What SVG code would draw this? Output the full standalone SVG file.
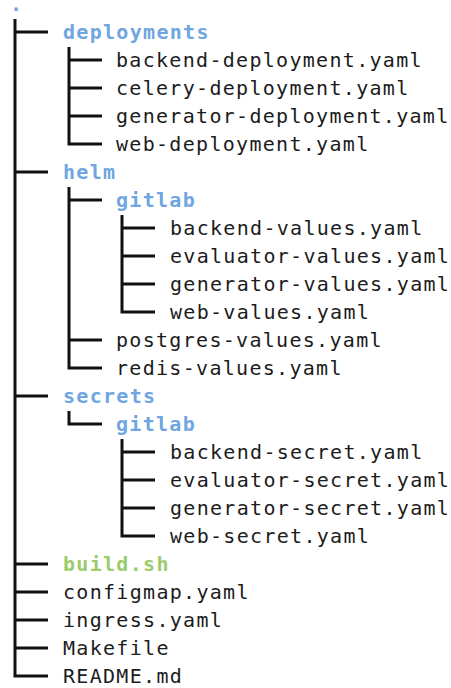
<svg xmlns="http://www.w3.org/2000/svg" width="451" height="688" viewBox="0 0 451 688">
  <style>
    text { font-family: "DejaVu Sans Mono", "Liberation Mono", monospace; font-size: 20px; letter-spacing: 1.3px; fill: #1c1c1c; }
    .dir { fill: #6fa5e0; font-weight: bold; }
    .exe { fill: #9ccc6a; font-weight: bold; }
    .tree { fill: none; stroke: #111; stroke-width: 3; stroke-linejoin: miter; }
  </style>
  <rect width="451" height="688" fill="#fff"/>

  <!-- branch lines -->
  <g id="connectors" class="tree">
    <!-- root level -->
    <path d="M15 19 V676 H48 M15 32 H48 M15 172 H48 M15 396 H48 M15 564 H48 M15 592 H48 M15 620 H48 M15 648 H48"/>
    <!-- deployments -->
    <path d="M69 47 V144 H102 M69 60 H102 M69 88 H102 M69 116 H102"/>
    <!-- helm -->
    <path d="M69 187 V368 H102 M69 200 H102 M69 340 H102"/>
    <!-- helm/gitlab -->
    <path d="M122 215 V312 H155 M122 228 H155 M122 256 H155 M122 284 H155"/>
    <!-- secrets -->
    <path d="M69 411 V424 H102"/>
    <!-- secrets/gitlab -->
    <path d="M122 439 V536 H155 M122 452 H155 M122 480 H155 M122 508 H155"/>
  </g>

  <g id="root"><text x="10" y="11" class="dir">.</text></g>

  <g id="deployments">
    <text x="63" y="39" class="dir">deployments</text>
    <text x="116" y="67">backend-deployment.yaml</text>
    <text x="116" y="95">celery-deployment.yaml</text>
    <text x="116" y="123">generator-deployment.yaml</text>
    <text x="116" y="151">web-deployment.yaml</text>
  </g>

  <g id="helm">
    <text x="63" y="179" class="dir">helm</text>
    <text x="116" y="207" class="dir">gitlab</text>
    <text x="170" y="235">backend-values.yaml</text>
    <text x="170" y="263">evaluator-values.yaml</text>
    <text x="170" y="291">generator-values.yaml</text>
    <text x="170" y="319">web-values.yaml</text>
    <text x="116" y="347">postgres-values.yaml</text>
    <text x="116" y="375">redis-values.yaml</text>
  </g>

  <g id="secrets">
    <text x="63" y="403" class="dir">secrets</text>
    <text x="116" y="431" class="dir">gitlab</text>
    <text x="170" y="459">backend-secret.yaml</text>
    <text x="170" y="487">evaluator-secret.yaml</text>
    <text x="170" y="515">generator-secret.yaml</text>
    <text x="170" y="543">web-secret.yaml</text>
  </g>

  <g id="files">
    <text x="63" y="571" class="exe">build.sh</text>
    <text x="63" y="599">configmap.yaml</text>
    <text x="63" y="627">ingress.yaml</text>
    <text x="63" y="655">Makefile</text>
    <text x="63" y="683">README.md</text>
  </g>
</svg>
